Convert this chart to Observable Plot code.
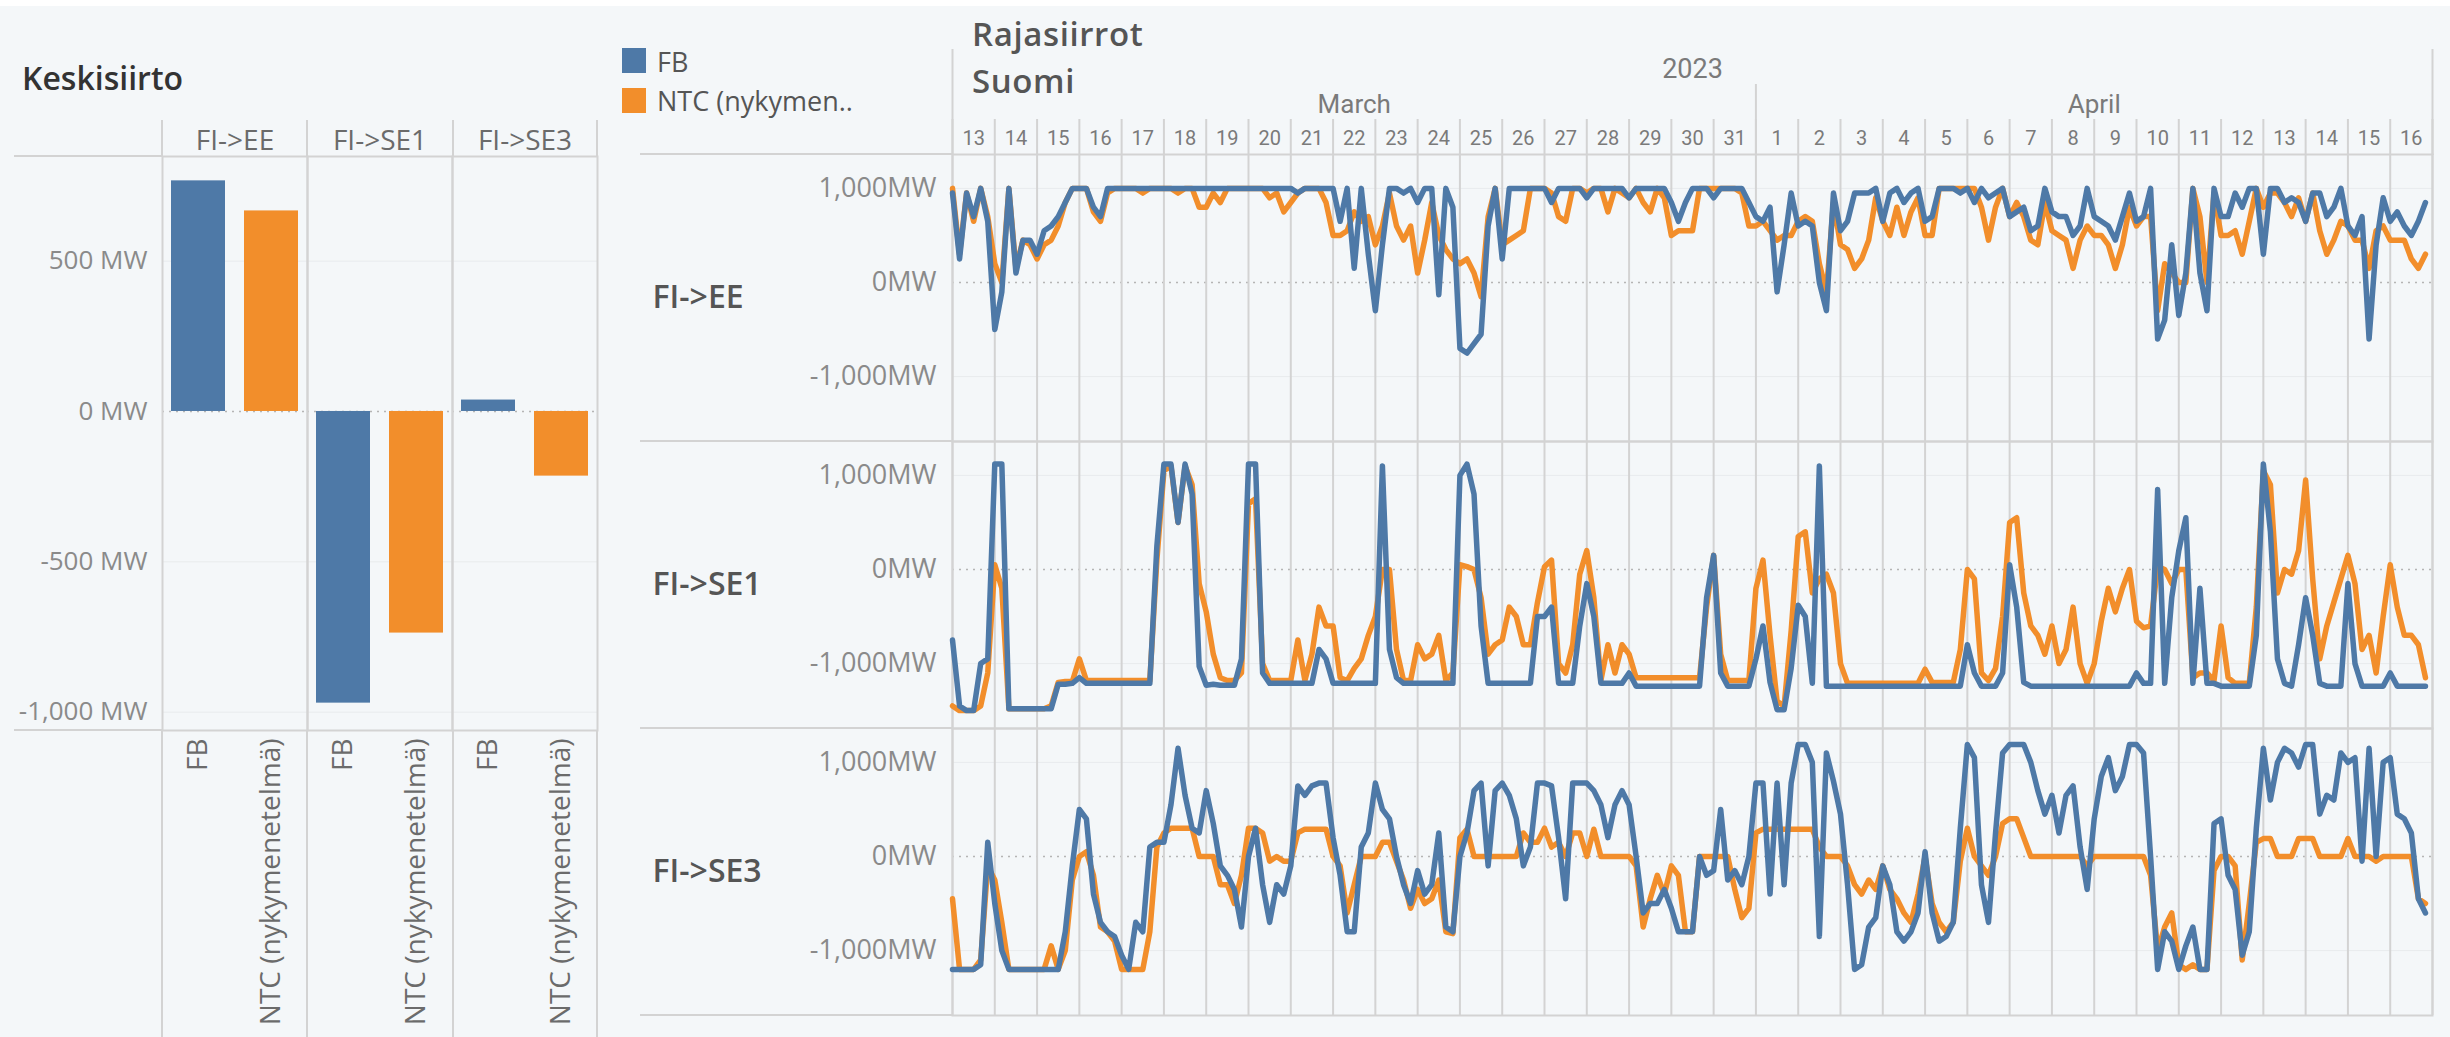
<!DOCTYPE html>
<html><head><meta charset="utf-8">
<script src="https://cdn.jsdelivr.net/npm/d3@7"></script>
<script src="https://cdn.jsdelivr.net/npm/@observablehq/plot@0.6"></script>
<style>
html,body{margin:0;padding:0;background:#f4f7f9;}
#root{position:relative;width:2450px;height:1037px;overflow:hidden;font-family:'Open Sans',sans-serif;}
.abs{position:absolute;white-space:nowrap;line-height:1;}
.hl{position:absolute;height:2px;background:#d3d3d3;}
.vl{position:absolute;width:2px;background:#d3d3d3;}
</style></head><body><div id="root"></div>
<script>
// ---------- data ----------
const links = ["FI->EE", "FI->SE1", "FI->SE3"];
const measures = ["FB", "NTC (nykymenetelmä)"];
const colors = ["#4e79a7", "#f28e2b"];
// Keskisiirto (average transfer, MW)
const avgFB = [767, -970, 38];
const avgNTC = [667, -737, -215];
// Rajasiirrot: 4-hourly values, 13 March 2023 00:00 -> 16 April 2023 20:00 (6 per day)
const startDate = "2023-03-13";
const eeFB = [
950,250,950,700,1000,650,
-500,-100,1000,100,450,450,
300,550,600,700,850,1000,
1000,1000,800,700,1000,1000,
1000,1000,1000,1000,1000,1000,
1000,1000,1000,1000,1000,1000,
1000,1000,1000,1000,1000,1000,
1000,1000,1000,1000,1000,1000,
1000,950,1000,1000,1000,1000,
1000,650,1000,150,1000,300,
-300,400,1000,1000,950,1000,
850,1000,1000,-130,1000,800,
-700,-750,-650,-550,600,1000,
250,1000,1000,1000,1000,1000,
1000,850,1000,1000,1000,1000,
900,1000,1000,1000,1000,1000,
900,1000,1000,1000,1000,1000,
850,650,850,1000,1000,1000,
900,1000,1000,1000,1000,850,
700,650,800,-100,400,950,
600,650,600,0,-300,950,
550,650,950,950,950,1000,
650,950,1000,850,950,1000,
650,700,1000,1000,1000,950,
1000,850,1000,900,950,1000,
700,750,800,550,600,1000,
750,700,700,500,600,1000,
700,650,600,450,700,950,
650,700,1000,-600,-400,400,
-350,100,1000,100,-300,1000,
700,700,950,800,1000,1000,
300,1000,1000,850,900,850,
650,950,950,700,800,1000,
600,500,700,-600,400,900,
650,750,600,500,650,850];
const eeNTC = [
1000,300,950,650,1000,700,
200,0,1000,150,450,400,
250,400,450,600,850,1000,
1000,1000,750,650,950,1000,
1000,1000,1000,950,1000,1000,
1000,1000,950,1000,1000,800,
800,950,850,1000,1000,1000,
1000,1000,1000,900,950,750,
850,950,1000,1000,1000,850,
500,500,550,750,650,700,
400,600,950,600,450,600,
100,450,850,500,350,250,
200,250,100,-150,700,1000,
400,450,500,550,1000,1000,
1000,950,700,650,1000,1000,
950,1000,1000,750,1000,950,
900,1000,850,750,1000,900,
500,550,550,550,1000,1000,
1000,1000,1000,1000,950,600,
600,650,550,450,500,500,
650,700,650,200,-100,850,
400,350,150,250,450,900,
650,500,800,500,750,900,
500,500,1000,1000,1000,1000,
1000,1000,800,450,800,1000,
700,850,700,450,400,850,
550,500,450,150,450,600,
500,500,400,150,400,800,
600,700,700,-300,200,100,
0,0,1000,700,0,950,
500,500,550,300,650,1000,
800,950,950,850,700,900,
650,950,550,300,450,650,
600,450,450,150,550,600,
450,450,450,250,150,300];
const se1FB = [
-750,-1450,-1500,-1500,-1000,-950,
1120,1120,-1480,-1480,-1480,-1480,
-1480,-1480,-1480,-1220,-1220,-1210,
-1150,-1210,-1210,-1210,-1210,-1210,
-1210,-1210,-1210,-1210,-1210,250,
1120,1120,500,1120,800,-1030,
-1230,-1220,-1230,-1230,-1230,-950,
1120,1120,-1100,-1210,-1210,-1210,
-1210,-1210,-1210,-1210,-850,-950,
-1210,-1210,-1210,-1210,-1210,-1210,
-1210,1100,-850,-1150,-1210,-1210,
-1210,-1210,-1210,-1210,-1210,-1210,
1000,1120,800,-600,-1210,-1210,
-1210,-1210,-1210,-1210,-1210,-500,
-500,-400,-1210,-1210,-1210,-600,
-150,-500,-1210,-1210,-1210,-1210,
-1100,-1240,-1240,-1240,-1240,-1240,
-1240,-1240,-1240,-1240,-1240,-300,
150,-1100,-1240,-1240,-1240,-1240,
-950,-600,-1200,-1490,-1490,-1050,
-380,-500,-1210,1100,-1240,-1240,
-1240,-1240,-1240,-1240,-1240,-1240,
-1240,-1240,-1240,-1240,-1240,-1240,
-1240,-1240,-1240,-1240,-1240,-1240,
-800,-1100,-1240,-1240,-1240,-1100,
50,-400,-1200,-1240,-1240,-1240,
-1240,-1240,-1240,-1240,-1240,-1240,
-1240,-1240,-1240,-1240,-1240,-1240,
-1100,-1210,-1210,850,-1210,-300,
200,550,-1210,-200,-1210,-1210,
-1240,-1240,-1240,-1240,-1240,-700,
1120,400,-950,-1210,-1240,-800,
-300,-700,-1210,-1240,-1240,-1240,
-150,-1000,-1240,-1240,-1240,-1240,
-1100,-1240,-1240,-1240,-1240,-1240];
const se1NTC = [
-1450,-1500,-1500,-1500,-1450,-1100,
50,-200,-1480,-1480,-1480,-1480,
-1480,-1480,-1450,-1200,-1190,-1190,
-950,-1180,-1180,-1180,-1180,-1180,
-1180,-1180,-1180,-1180,-1180,100,
1050,1100,500,1100,900,-150,
-450,-900,-1150,-1180,-1180,-1100,
700,750,-1000,-1180,-1180,-1180,
-1180,-750,-1180,-900,-400,-600,
-600,-1150,-1180,-1050,-950,-700,
-500,0,0,-850,-1180,-1180,
-800,-950,-900,-700,-1180,-1100,
50,30,0,-300,-900,-800,
-750,-400,-500,-800,-800,-350,
30,100,-1000,-1100,-800,-50,
200,-300,-1180,-800,-1100,-800,
-900,-1150,-1150,-1150,-1150,-1150,
-1150,-1150,-1150,-1150,-1150,-400,
150,-900,-1180,-1180,-1180,-1180,
-200,100,-700,-1400,-1450,-650,
350,400,-250,-100,-50,-250,
-1000,-1210,-1210,-1210,-1210,-1210,
-1210,-1210,-1210,-1210,-1210,-1210,
-1060,-1200,-1200,-1200,-1200,-850,
0,-100,-1100,-1180,-1050,-500,
500,550,-250,-600,-700,-900,
-600,-1000,-850,-400,-1000,-1210,
-1000,-550,-200,-450,-200,0,
-550,-620,-600,30,0,-150,
0,0,-1150,-1100,-1100,-1180,
-600,-1150,-1210,-1210,-1210,-400,
1050,900,-250,0,-50,200,
950,-100,-950,-600,-350,-100,
150,-150,-850,-700,-1100,-500,
50,-400,-700,-700,-800,-1150];
const se3FB = [
-1200,-1200,-1200,-1200,-1150,150,
-500,-1000,-1200,-1200,-1200,-1200,
-1200,-1200,-1200,-1200,-800,-100,
500,400,-400,-700,-800,-850,
-1050,-1200,-700,-800,100,150,
150,550,1150,650,300,250,
700,350,-100,-200,-350,-750,
0,300,-300,-700,-300,-400,
-100,750,650,750,780,780,
200,-200,-800,-800,100,250,
780,500,400,0,-300,-500,
-150,-400,-300,250,-750,-800,
0,250,700,780,-100,700,
780,650,400,-100,100,780,
780,750,200,-450,780,780,
780,700,550,200,550,700,
550,0,-600,-500,-500,-350,
-550,-800,-800,-800,0,-200,
-150,500,-250,-150,-300,0,
780,780,-400,780,-300,780,
1190,1190,1000,-850,1100,800,
450,-300,-1200,-1150,-750,-650,
-100,-300,-800,-900,-800,-600,
50,-600,-900,-850,-700,300,
1190,1050,-300,-700,250,1100,
1190,1190,1190,1000,700,450,
650,250,650,750,100,-350,
400,850,1050,700,850,1190,
1190,1100,0,-1200,-800,-900,
-1200,-950,-750,-1200,-1200,350,
400,-200,-350,-1050,-800,300,
1150,600,1000,1150,1100,950,
1190,1190,450,650,600,1100,
1000,1050,-50,1150,0,1000,
1050,450,400,250,-450,-600];
const se3NTC = [
-450,-1200,-1200,-1200,-1100,-100,
-250,-700,-1200,-1200,-1200,-1200,
-1200,-1200,-950,-1200,-1000,-250,
0,50,-200,-750,-800,-900,
-1200,-1200,-1200,-1200,-800,100,
250,300,300,300,300,0,
0,0,-300,-300,-500,-200,
300,300,250,-50,0,-50,
-50,250,290,290,290,290,
0,-100,-600,-300,0,0,
0,150,150,-50,-250,-550,
-350,-500,-450,-250,-800,-820,
200,290,0,0,0,0,
0,0,0,250,150,150,
300,100,150,0,250,250,
0,290,0,0,0,0,
0,-100,-750,-450,-200,-400,
-100,-200,-800,-800,0,0,
0,0,0,-350,-650,-550,
250,290,290,290,290,290,
290,290,290,100,0,0,
0,-100,-300,-400,-250,-350,
-100,-350,-450,-600,-700,-400,
0,-500,-700,-800,-700,-50,
300,0,-100,-200,0,350,
400,400,200,0,0,0,
0,0,0,0,0,-100,
0,0,0,0,0,0,
0,0,-200,-1000,-750,-600,
-1150,-1200,-1150,-1200,-1200,-150,
0,0,-100,-1100,-500,150,
190,190,0,0,0,190,
190,190,0,0,0,0,
190,0,0,0,-50,0,
0,0,0,0,-450,-500];

// ---------- helpers ----------
const t0 = new Date(startDate + "T00:00:00Z");
const nDays = 35;
const tEnd = d3.utcDay.offset(t0, nDays);
const toRows = (arr, link, measure) => arr.map((v, i) => ({t: d3.utcHour.offset(t0, i * 4), v, link, measure}));
const fbRows = [...toRows(eeFB, links[0], measures[0]), ...toRows(se1FB, links[1], measures[0]), ...toRows(se3FB, links[2], measures[0])];
const ntcRows = [...toRows(eeNTC, links[0], measures[1]), ...toRows(se1NTC, links[1], measures[1]), ...toRows(se3NTC, links[2], measures[1])];
const bars = links.flatMap((l, i) => [
  {link: l, measure: measures[0], value: avgFB[i]},
  {link: l, measure: measures[1], value: avgNTC[i]}
]);
const dayStarts = d3.utcDay.range(t0, d3.utcHour.offset(tEnd, 1));
const dayMids = dayStarts.slice(0, -1).map(d => d3.utcHour.offset(d, 12));
const aprStart = new Date("2023-04-01T00:00:00Z");
const monthMids = [new Date((+t0 + +aprStart) / 2), new Date((+aprStart + +tEnd) / 2)];
const yearMid = [new Date((+t0 + +tEnd) / 2)];
const fmtMW = (d, sep) => (d < 0 ? "-" : "") + d3.format(",")(Math.abs(d)) + sep + "MW";
const baseStyle = {background: "transparent", fontFamily: "'Open Sans', sans-serif", overflow: "visible"};
const sep = "#d3d3d3";

// ---------- left: Keskisiirto ----------
const left = Plot.plot({
  width: 610, height: 1037,
  marginTop: 156, marginBottom: 307, marginLeft: 162, marginRight: 13,
  style: baseStyle,
  fx: {domain: links, padding: 0, axis: null},
  x: {domain: measures, paddingInner: 0.26, paddingOuter: 0.12, axis: null},
  y: {domain: [-1061, 848], axis: null},
  color: {domain: measures, range: colors},
  marks: [
    Plot.gridY([-1000, -500, 500], {stroke: "#e8ebed", strokeOpacity: 1}),
    Plot.ruleY([0], {stroke: "#b5b5b5", strokeDasharray: "2,5", strokeWidth: 1.5}),
    Plot.barY(bars, {fx: "link", x: "measure", y: "value", fill: "measure", inset: 0}),
    Plot.frame({stroke: sep, strokeWidth: 2}),
    Plot.axisY({ticks: [-1000, -500, 0, 500], tickSize: 0, tickPadding: 15, tickFormat: d => fmtMW(d, " "), fontSize: 26, fill: "#8a8a8a", label: null}),
    Plot.axisFx({anchor: "top", tickSize: 0, tickPadding: 7, fontSize: 28, fill: "#6b6b6b", label: null}),
    Plot.axisX({anchor: "bottom", tickSize: 0, tickPadding: 8, tickRotate: -90, fontSize: 28, fill: "#6b6b6b", label: null})
  ]
});

// ---------- right: Rajasiirrot ----------
const right = Plot.plot({
  width: 1850, height: 1037,
  marginTop: 154, marginBottom: 22, marginLeft: 352, marginRight: 18,
  style: baseStyle,
  x: {type: "utc", domain: [t0, tEnd], axis: null},
  y: {domain: [-1690, 1360], axis: null},
  fy: {domain: links, padding: 0, axis: null},
  color: {domain: measures, range: colors},
  marks: [
    Plot.gridY([-1000, 1000], {stroke: "#e8ebed", strokeOpacity: 1}),
    Plot.ruleY([0], {stroke: "#b5b5b5", strokeDasharray: "2,5", strokeWidth: 1.5}),
    Plot.ruleX(dayStarts, {stroke: sep, strokeWidth: 2}),
    Plot.frame({stroke: sep, strokeWidth: 2}),
    Plot.lineY(ntcRows, {x: "t", y: "v", fy: "link", stroke: "measure", strokeWidth: 5.5}),
    Plot.lineY(fbRows, {x: "t", y: "v", fy: "link", stroke: "measure", strokeWidth: 5.5}),
    Plot.axisY({ticks: [-1000, 0, 1000], tickSize: 0, tickPadding: 16, tickFormat: d => fmtMW(d, ""), fontSize: 27, fill: "#8a8a8a", label: null}),
    Plot.axisFy({anchor: "left", tickSize: 0, tickPadding: 300, textAnchor: "start", fontSize: 32, fontWeight: 600, fill: "#555", label: null}),
    Plot.axisX(dayMids, {anchor: "top", tickSize: 0, tickPadding: 10, tickFormat: d3.utcFormat("%-d"), fontSize: 20, fontFamily: "Roboto", fill: "#7a7a7a", label: null}),
    Plot.axisX(monthMids, {anchor: "top", tickSize: 0, tickPadding: 42, tickFormat: d3.utcFormat("%B"), fontSize: 26, fontFamily: "Roboto", fill: "#7a7a7a", label: null}),
    Plot.axisX(yearMid, {anchor: "top", tickSize: 0, tickPadding: 77, tickFormat: d3.utcFormat("%Y"), fontSize: 27, fontFamily: "Roboto", fill: "#7a7a7a", label: null}),
    Plot.axisX(dayStarts, {anchor: "top", tickSize: 36, tickFormat: () => "", stroke: sep, strokeWidth: 2, label: null}),
    Plot.axisX([aprStart], {anchor: "top", tickSize: 71, tickFormat: () => "", stroke: sep, strokeWidth: 2, label: null}),
    Plot.axisX([t0, tEnd], {anchor: "top", tickSize: 106, tickFormat: () => "", stroke: sep, strokeWidth: 2, label: null})
  ]
});

// ---------- assemble ----------
const root = document.getElementById("root");
function box(el, x, y, w) {
  const d = document.createElement("div");
  d.style.cssText = `position:absolute;left:${x}px;top:${y}px;width:${w}px;`;
  d.appendChild(el); root.appendChild(d);
}
box(left, 0, 0, 610);
box(right, 600, 0, 1850);
function html(s) { root.insertAdjacentHTML("beforeend", s); }
html(`<div style="position:absolute;left:0;top:0;width:2450px;height:6px;background:#fff"></div>`);
// left decoration lines
html(`<div class="hl" style="left:14px;top:155px;width:148px"></div>`);
html(`<div class="hl" style="left:14px;top:729px;width:148px"></div>`);
[161, 306, 452, 596].forEach(x => {
  html(`<div class="vl" style="left:${x}px;top:120px;height:36px"></div>`);
  html(`<div class="vl" style="left:${x}px;top:730px;height:307px"></div>`);
});
// right row separator extensions
[153, 440, 727, 1014].forEach(y => html(`<div class="hl" style="left:640px;top:${y}px;width:312px"></div>`));
// titles & legend
html(`<div class="abs" style="left:22px;top:62px;font-size:32px;font-weight:600;color:#333">Keskisiirto</div>`);
html(`<div class="abs" style="left:972px;top:17px;font-size:33px;font-weight:600;letter-spacing:0.6px;color:#555">Rajasiirrot</div>`);
html(`<div class="abs" style="left:972px;top:64px;font-size:33px;font-weight:600;letter-spacing:0.6px;color:#555">Suomi</div>`);
html(`<div class="abs" style="left:622px;top:48px;width:24px;height:25px;background:${colors[0]}"></div>`);
html(`<div class="abs" style="left:622px;top:88px;width:24px;height:25px;background:${colors[1]}"></div>`);
html(`<div class="abs" style="left:657px;top:48px;font-size:27px;color:#555">${measures[0]}</div>`);
html(`<div class="abs" style="left:657px;top:87px;font-size:27px;color:#555">NTC (nykymen..</div>`);
</script></body></html>
